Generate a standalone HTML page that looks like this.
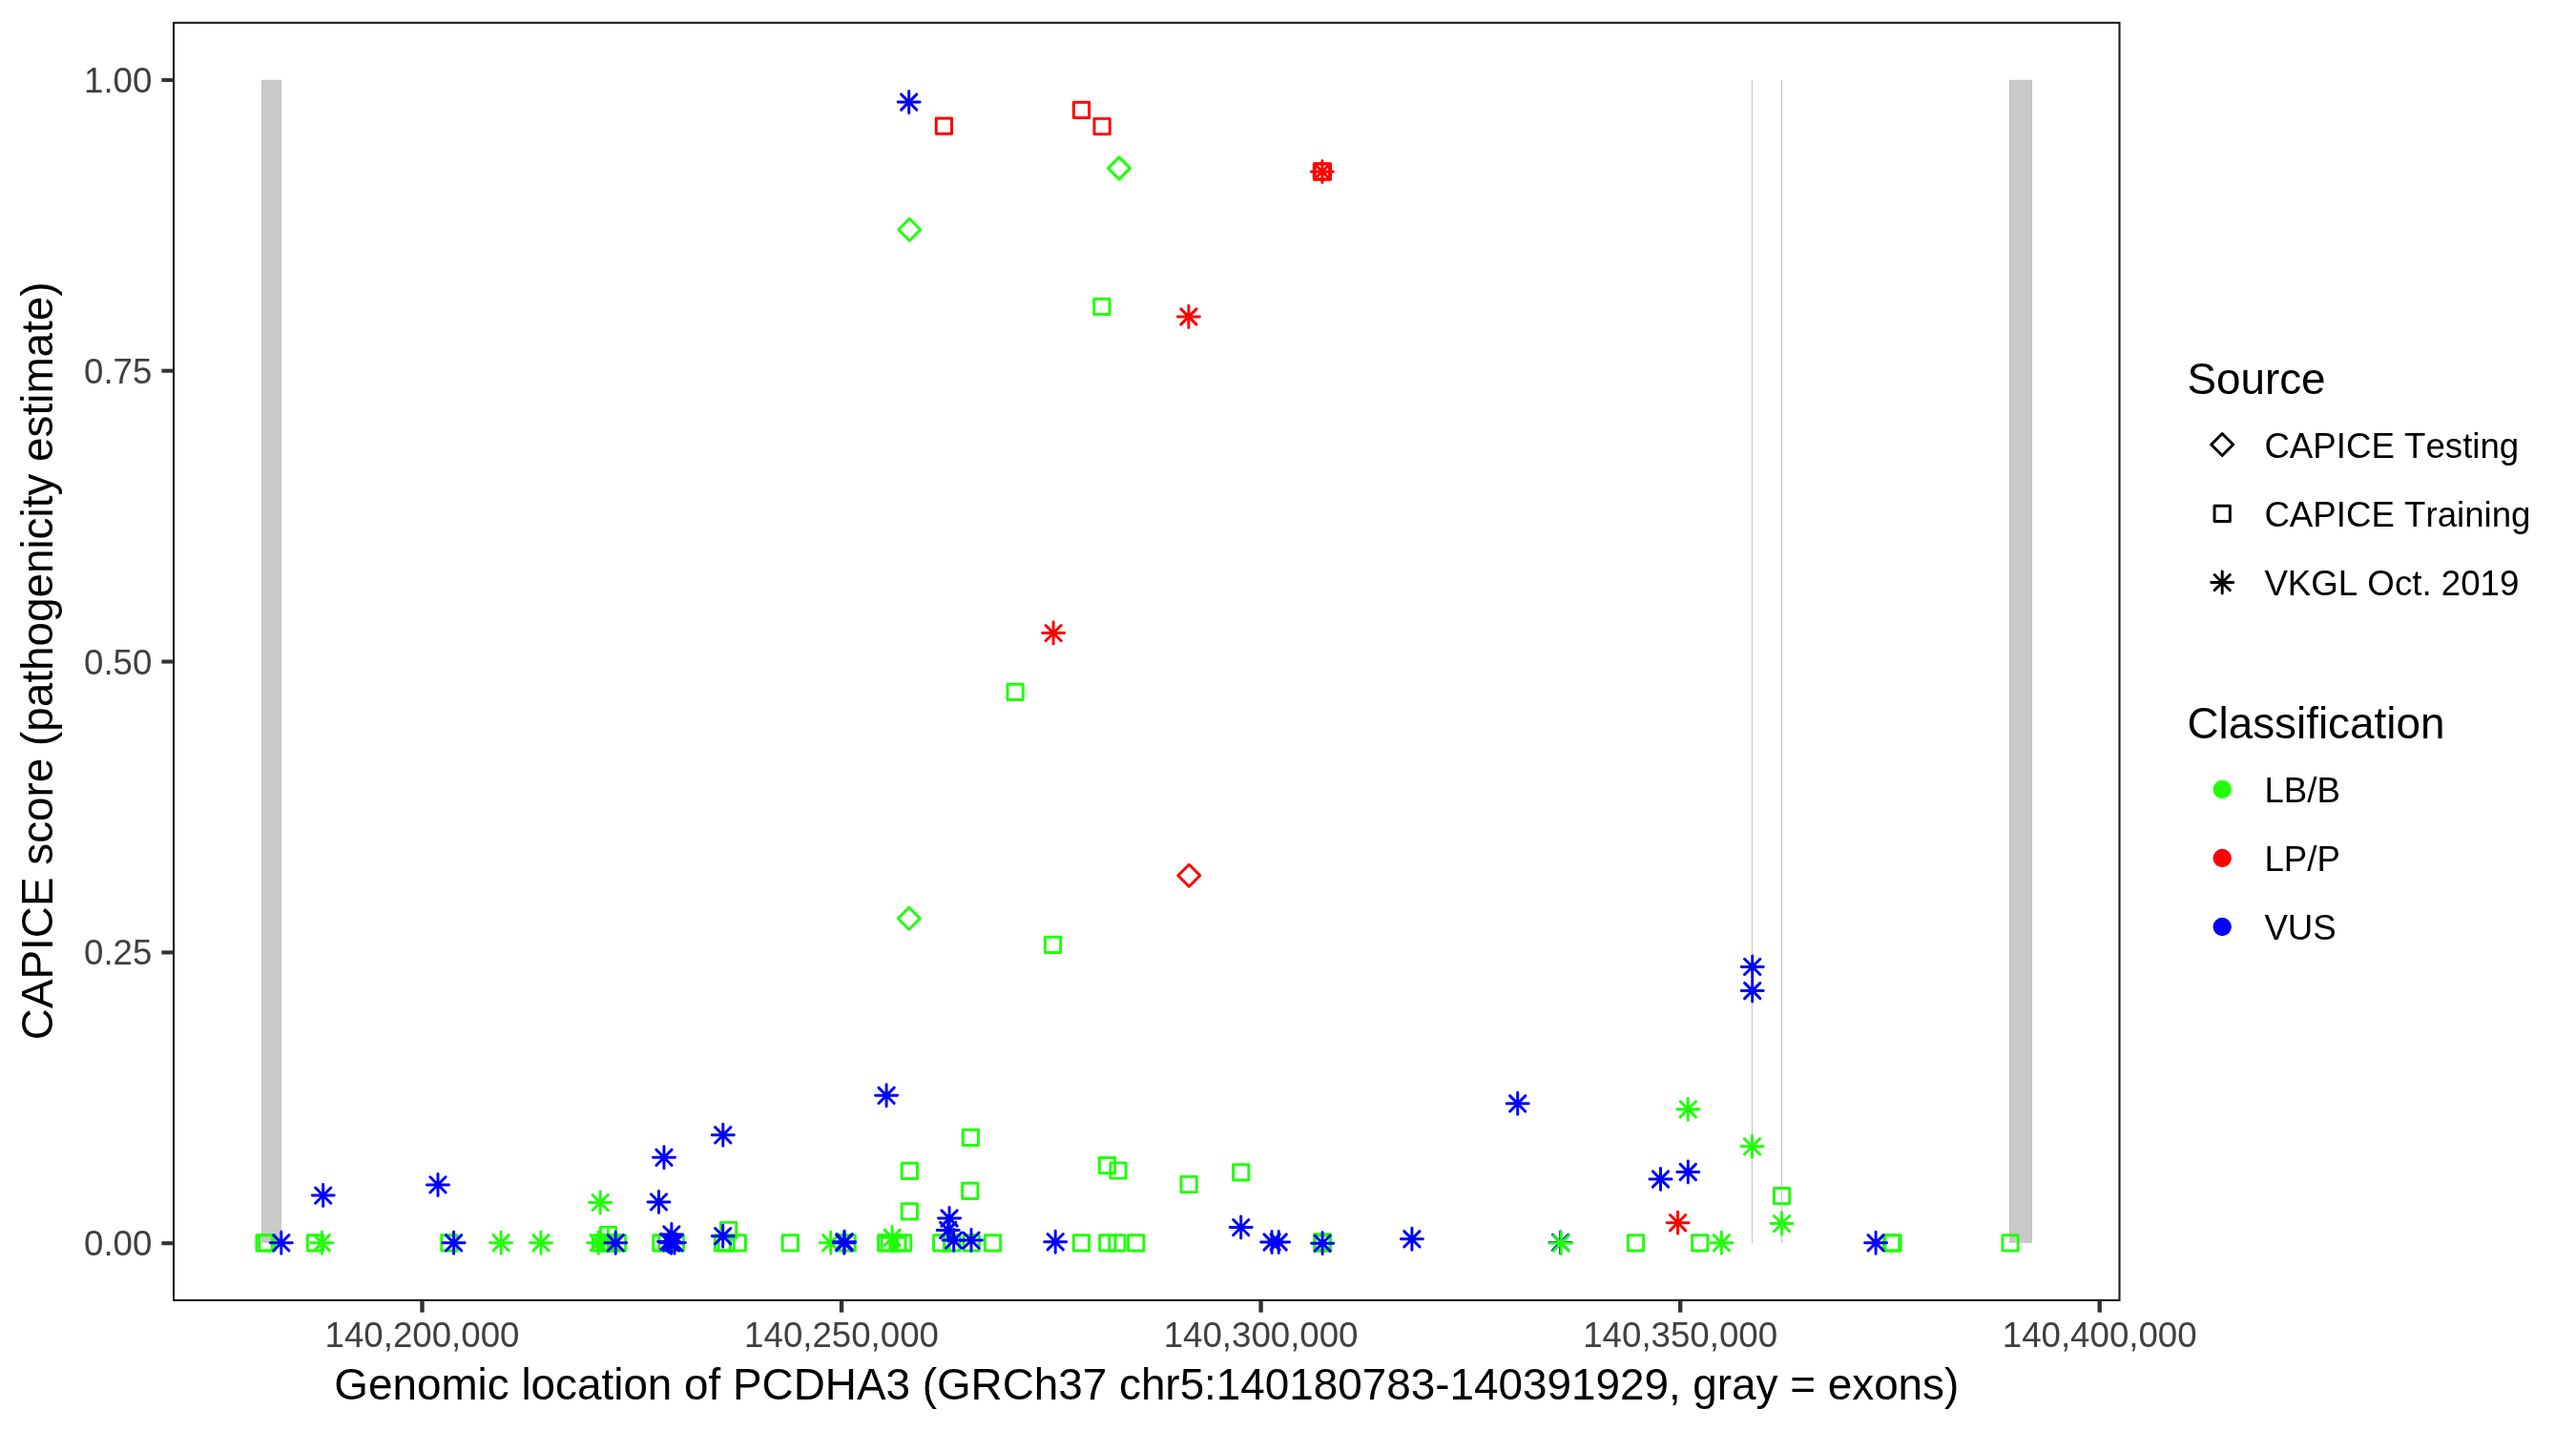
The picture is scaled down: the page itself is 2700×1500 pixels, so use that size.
<!DOCTYPE html>
<html><head><meta charset="utf-8"><title>CAPICE PCDHA3</title>
<style>
html,body{margin:0;padding:0;background:#fff}
svg{display:block;will-change:transform}
text{font-family:"Liberation Sans",sans-serif;font-kerning:none;font-feature-settings:"kern" 0,"liga" 0}
</style></head>
<body>
<svg width="2700" height="1500" viewBox="0 0 2700 1500">
<defs>
<g id="sq"><rect x="-8.14" y="-8.14" width="16.28" height="16.28"/></g>
<g id="dia"><path d="M-11.51 0L0 -11.51L11.51 0L0 11.51Z"/></g>
<g id="ast"><path d="M-11.51 0H11.51M0 -11.51V11.51M-8.14 -8.14L8.14 8.14M-8.14 8.14L8.14 -8.14"/></g>
</defs>
<rect x="0" y="0" width="2700" height="1500" fill="#fff"/>
<!-- exons -->
<rect x="274.5" y="84.3" width="19.9" height="1218" fill="#C9C9C9" stroke="#C2C2C2" stroke-width="1"/>
<rect x="2106.6" y="84.3" width="22.9" height="1218" fill="#C9C9C9" stroke="#C2C2C2" stroke-width="1"/>
<rect x="1835.9" y="83.8" width="1.15" height="1219" fill="#C6C6C6"/>
<rect x="1866.9" y="83.8" width="1.2" height="1219" fill="#C6C6C6"/>
<!-- points -->
<g fill="none" stroke-width="2.95" stroke-linecap="round" stroke-linejoin="round">
<use href="#sq" x="277.1" y="1302.8" stroke="#1FFF08"/>
<use href="#sq" x="280.0" y="1302.8" stroke="#1FFF08"/>
<use href="#ast" x="294.8" y="1302.8" stroke="#0000FF"/>
<use href="#sq" x="330.4" y="1302.8" stroke="#1FFF08"/>
<use href="#ast" x="337.3" y="1302.8" stroke="#1FFF08"/>
<use href="#ast" x="338.7" y="1253.1" stroke="#0000FF"/>
<use href="#ast" x="459.0" y="1241.9" stroke="#0000FF"/>
<use href="#sq" x="470.9" y="1302.8" stroke="#1FFF08"/>
<use href="#ast" x="475.6" y="1302.8" stroke="#0000FF"/>
<use href="#ast" x="525.1" y="1302.8" stroke="#1FFF08"/>
<use href="#ast" x="567.0" y="1302.8" stroke="#1FFF08"/>
<use href="#ast" x="629.2" y="1260.6" stroke="#1FFF08"/>
<use href="#ast" x="627.2" y="1302.8" stroke="#1FFF08"/>
<use href="#ast" x="637.3" y="1300.5" stroke="#1FFF08"/>
<use href="#sq" x="629.5" y="1302.8" stroke="#1FFF08"/>
<use href="#sq" x="634.0" y="1302.8" stroke="#1FFF08"/>
<use href="#sq" x="640.5" y="1302.8" stroke="#1FFF08"/>
<use href="#sq" x="647.5" y="1302.8" stroke="#1FFF08"/>
<use href="#sq" x="637.5" y="1294.5" stroke="#1FFF08"/>
<use href="#ast" x="645.2" y="1302.8" stroke="#0000FF"/>
<use href="#ast" x="690.5" y="1259.9" stroke="#0000FF"/>
<use href="#ast" x="696.0" y="1213.3" stroke="#0000FF"/>
<use href="#ast" x="757.8" y="1189.8" stroke="#0000FF"/>
<use href="#sq" x="692.9" y="1302.8" stroke="#1FFF08"/>
<use href="#sq" x="698.8" y="1302.8" stroke="#1FFF08"/>
<use href="#sq" x="708.3" y="1302.8" stroke="#1FFF08"/>
<use href="#ast" x="703.9" y="1293.9" stroke="#0000FF"/>
<use href="#ast" x="701.0" y="1301.5" stroke="#0000FF"/>
<use href="#ast" x="703.6" y="1302.8" stroke="#0000FF"/>
<use href="#ast" x="706.9" y="1302.8" stroke="#0000FF"/>
<use href="#sq" x="757.5" y="1302.8" stroke="#1FFF08"/>
<use href="#sq" x="761.2" y="1302.8" stroke="#1FFF08"/>
<use href="#sq" x="773.3" y="1302.8" stroke="#1FFF08"/>
<use href="#sq" x="763.6" y="1289.5" stroke="#1FFF08"/>
<use href="#ast" x="757.7" y="1295.7" stroke="#0000FF"/>
<use href="#sq" x="828.3" y="1302.8" stroke="#1FFF08"/>
<use href="#ast" x="870.7" y="1302.8" stroke="#1FFF08"/>
<use href="#sq" x="888.0" y="1302.8" stroke="#1FFF08"/>
<use href="#ast" x="885.1" y="1301.7" stroke="#0000FF"/>
<use href="#ast" x="884.8" y="1302.8" stroke="#0000FF"/>
<use href="#ast" x="929.1" y="1148.3" stroke="#0000FF"/>
<use href="#sq" x="928.8" y="1302.8" stroke="#1FFF08"/>
<use href="#sq" x="932.3" y="1302.8" stroke="#1FFF08"/>
<use href="#sq" x="940.9" y="1302.8" stroke="#1FFF08"/>
<use href="#sq" x="946.6" y="1302.8" stroke="#1FFF08"/>
<use href="#ast" x="935.2" y="1297.3" stroke="#1FFF08"/>
<use href="#sq" x="953.3" y="1227.4" stroke="#1FFF08"/>
<use href="#sq" x="953.3" y="1269.9" stroke="#1FFF08"/>
<use href="#sq" x="1017.3" y="1192.4" stroke="#1FFF08"/>
<use href="#sq" x="1016.8" y="1248.4" stroke="#1FFF08"/>
<use href="#sq" x="986.7" y="1302.8" stroke="#1FFF08"/>
<use href="#sq" x="997.8" y="1302.8" stroke="#1FFF08"/>
<use href="#sq" x="1018.2" y="1302.8" stroke="#1FFF08"/>
<use href="#sq" x="1040.5" y="1302.8" stroke="#1FFF08"/>
<use href="#ast" x="995.05" y="1277.0" stroke="#0000FF"/>
<use href="#ast" x="993.7" y="1289.5" stroke="#0000FF"/>
<use href="#ast" x="999.7" y="1300.1" stroke="#0000FF"/>
<use href="#ast" x="1018.0" y="1300.1" stroke="#0000FF"/>
<use href="#ast" x="1106.2" y="1301.7" stroke="#0000FF"/>
<use href="#sq" x="1133.4" y="1302.8" stroke="#1FFF08"/>
<use href="#sq" x="1160.8" y="1302.8" stroke="#1FFF08"/>
<use href="#sq" x="1170.9" y="1302.8" stroke="#1FFF08"/>
<use href="#sq" x="1190.7" y="1302.8" stroke="#1FFF08"/>
<use href="#sq" x="1160.5" y="1221.7" stroke="#1FFF08"/>
<use href="#sq" x="1172.0" y="1227.0" stroke="#1FFF08"/>
<use href="#sq" x="1246.1" y="1241.5" stroke="#1FFF08"/>
<use href="#sq" x="1300.7" y="1228.9" stroke="#1FFF08"/>
<use href="#ast" x="1300.7" y="1286.6" stroke="#0000FF"/>
<use href="#ast" x="1333.1" y="1302.0" stroke="#0000FF"/>
<use href="#ast" x="1340.2" y="1302.0" stroke="#0000FF"/>
<use href="#sq" x="1385.8" y="1301.9" stroke="#1FFF08"/>
<use href="#sq" x="1386.6" y="1303.1" stroke="#1FFF08"/>
<use href="#ast" x="1386.1" y="1303.2" stroke="#0000FF"/>
<use href="#ast" x="1479.9" y="1298.8" stroke="#0000FF"/>
<use href="#ast" x="1590.7" y="1156.8" stroke="#0000FF"/>
<use href="#ast" x="1635.6" y="1302.4" stroke="#0000FF"/>
<use href="#ast" x="1636.2" y="1303.1" stroke="#1FFF08"/>
<use href="#sq" x="1714.5" y="1302.8" stroke="#1FFF08"/>
<use href="#ast" x="1740.5" y="1236.0" stroke="#0000FF"/>
<use href="#ast" x="1769.3" y="1228.5" stroke="#0000FF"/>
<use href="#ast" x="1769.3" y="1162.7" stroke="#1FFF08"/>
<use href="#ast" x="1758.6" y="1281.7" stroke="#FF0000"/>
<use href="#sq" x="1781.8" y="1302.8" stroke="#1FFF08"/>
<use href="#ast" x="1804.4" y="1302.8" stroke="#1FFF08"/>
<use href="#ast" x="1836.5" y="1201.8" stroke="#1FFF08"/>
<use href="#sq" x="1867.6" y="1253.6" stroke="#1FFF08"/>
<use href="#ast" x="1867.6" y="1282.6" stroke="#1FFF08"/>
<use href="#ast" x="1836.7" y="1013.4" stroke="#0000FF"/>
<use href="#ast" x="1836.7" y="1038.5" stroke="#0000FF"/>
<use href="#sq" x="1982.6" y="1302.8" stroke="#1FFF08"/>
<use href="#sq" x="1984.0" y="1302.8" stroke="#1FFF08"/>
<use href="#ast" x="1966.1" y="1302.8" stroke="#0000FF"/>
<use href="#sq" x="2107.1" y="1302.8" stroke="#1FFF08"/>
<use href="#ast" x="952.7" y="107.0" stroke="#0000FF"/>
<use href="#sq" x="989.4" y="132.1" stroke="#FF0000"/>
<use href="#sq" x="1133.5" y="115.4" stroke="#FF0000"/>
<use href="#sq" x="1155.1" y="132.5" stroke="#FF0000"/>
<use href="#dia" x="1173.0" y="176.4" stroke="#1FFF08"/>
<use href="#dia" x="953.3" y="240.7" stroke="#1FFF08"/>
<use href="#sq" x="1385.4" y="179.9" stroke="#FF0000"/>
<use href="#sq" x="1386.4" y="179.9" stroke="#FF0000"/>
<use href="#ast" x="1385.9" y="179.9" stroke="#FF0000"/>
<use href="#sq" x="1154.9" y="321.3" stroke="#1FFF08"/>
<use href="#ast" x="1245.9" y="332.0" stroke="#FF0000"/>
<use href="#ast" x="1104.1" y="663.6" stroke="#FF0000"/>
<use href="#sq" x="1064.1" y="725.4" stroke="#1FFF08"/>
<use href="#dia" x="1246.3" y="917.7" stroke="#FF0000"/>
<use href="#dia" x="952.8" y="962.7" stroke="#1FFF08"/>
<use href="#sq" x="1103.5" y="990.4" stroke="#1FFF08"/>
</g>
<!-- panel border -->
<rect x="182.1" y="23.85" width="2039.4" height="1339.05" fill="none" stroke="#1c1c1c" stroke-width="2.1"/>
<!-- ticks -->
<rect x="169.4" y="81.85" width="12" height="4.1" fill="#333"/>
<rect x="169.4" y="386.65" width="12" height="4.1" fill="#333"/>
<rect x="169.4" y="691.50" width="12" height="4.1" fill="#333"/>
<rect x="169.4" y="996.35" width="12" height="4.1" fill="#333"/>
<rect x="169.4" y="1301.15" width="12" height="4.1" fill="#333"/>
<rect x="440.30" y="1363.5" width="4.4" height="12.2" fill="#333"/>
<rect x="879.85" y="1363.5" width="4.4" height="12.2" fill="#333"/>
<rect x="1319.40" y="1363.5" width="4.4" height="12.2" fill="#333"/>
<rect x="1758.95" y="1363.5" width="4.4" height="12.2" fill="#333"/>
<rect x="2198.50" y="1363.5" width="4.4" height="12.2" fill="#333"/>
<g font-size="36.67" fill="#404040">
<text x="159.4" y="96.90" text-anchor="end">1.00</text>
<text x="159.4" y="401.70" text-anchor="end">0.75</text>
<text x="159.4" y="706.55" text-anchor="end">0.50</text>
<text x="159.4" y="1011.40" text-anchor="end">0.25</text>
<text x="159.4" y="1316.20" text-anchor="end">0.00</text>
<text x="442.5" y="1411.6" text-anchor="middle">140,200,000</text>
<text x="882.05" y="1411.6" text-anchor="middle">140,250,000</text>
<text x="1321.6" y="1411.6" text-anchor="middle">140,300,000</text>
<text x="1761.15" y="1411.6" text-anchor="middle">140,350,000</text>
<text x="2200.7" y="1411.6" text-anchor="middle">140,400,000</text>
</g>
<g font-size="45.83" fill="#000">
<text x="1201.8" y="1467.3" text-anchor="middle">Genomic location of PCDHA3 (GRCh37 chr5:140180783-140391929, gray = exons)</text>
<text transform="translate(55,692.8) rotate(-90)" text-anchor="middle">CAPICE score (pathogenicity estimate)</text>
<text x="2292.4" y="412.7">Source</text>
<text x="2292.4" y="773.8">Classification</text>
</g>
<g fill="none" stroke="#000" stroke-width="2.95" stroke-linecap="round" stroke-linejoin="round">
<use href="#dia" x="2329.2" y="466"/>
<use href="#sq" x="2329.2" y="538.4"/>
<use href="#ast" x="2329.2" y="610.6"/>
</g>
<circle cx="2329.2" cy="827.5" r="9.7" fill="#1FFF08"/>
<circle cx="2329.2" cy="899.5" r="9.7" fill="#FF0000"/>
<circle cx="2329.2" cy="971.5" r="9.7" fill="#0000FF"/>
<g font-size="36.67" fill="#000">
<text x="2373.4" y="480.3">CAPICE Testing</text>
<text x="2373.4" y="552.3">CAPICE Training</text>
<text x="2373.4" y="624.3">VKGL Oct. 2019</text>
<text x="2373.4" y="840.7">LB/B</text>
<text x="2373.4" y="912.7">LP/P</text>
<text x="2373.4" y="984.8">VUS</text>
</g>
</svg>
</body></html>
